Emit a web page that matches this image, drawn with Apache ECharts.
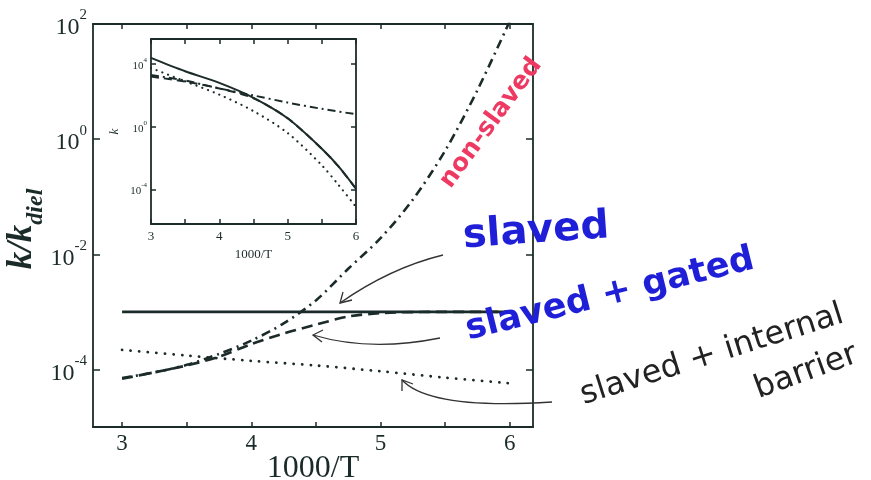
<!DOCTYPE html>
<html>
<head>
<meta charset="utf-8">
<script src="https://cdn.jsdelivr.net/npm/echarts@6/dist/echarts.min.js"></script>
<style>html,body{margin:0;padding:0;background:#fff;}#c{width:871px;height:480px;}</style>
</head>
<body>
<div id="c"></div>
<script>
// ---------- main panel data (k / k_diel vs 1000/T) ----------
const mainX = [3, 3.25, 3.5, 3.75, 4, 4.25, 4.5, 4.75, 5, 5.25, 5.5, 5.75, 6];
const slaved = [1e-3, 1e-3, 1e-3, 1e-3, 1e-3, 1e-3, 1e-3, 1e-3, 1e-3, 1e-3, 1e-3, 1e-3, 1e-3];
const nonSlaved = [7.1e-5, 8.9e-5, 1.2e-4, 1.86e-4, 3.16e-4, 6.3e-4, 1.58e-3, 5.6e-3, 1.9e-2, 8.9e-2, 0.63, 7.1, 112];
const slavedGated = [6.9e-5, 8.9e-5, 1.17e-4, 1.66e-4, 2.75e-4, 4.2e-4, 6.0e-4, 8.3e-4, 9.5e-4, 9.9e-4, 1e-3, 1e-3, 1e-3];
const barrierX = [3, 3.5, 4, 4.5, 5, 5.5, 6];
const slavedBarrier = [2.19e-4, 1.74e-4, 1.41e-4, 1.17e-4, 9.3e-5, 7.2e-5, 5.75e-5];

// ---------- inset data (k vs 1000/T) ----------
const insetX = [3, 3.5, 4, 4.5, 5, 5.5, 5.75, 6];
const insetSolid = [2.5e4, 3.5e3, 630, 71, 3.5, 0.04, 2.8e-3, 1.12e-4];
const insetDotted = [5.6e3, 794, 112, 10, 0.4, 3.5e-3, 1.8e-4, 7.9e-6];
const insetDashed = [1.6e3, 760, 280, 66, 3.47, 0.039, 2.75e-3, 1.1e-4];
const insetDashDotX = [3, 3.5, 4, 4.5, 5, 5.5, 6];
const insetDashDot = [2.0e3, 890, 280, 100, 35, 14, 6.3];

// ---------- ticks ----------
const xTickLabels = [3, 4, 5, 6];
const xTicks = [3, 3.5, 4, 4.5, 5, 5.5, 6];
const mainYTicks = [1e-4, 1e-2, 1, 100];
const insetYTicks = [1e-4, 1, 1e4];

const INK = '#1b2b29';
const SERIF = 'Liberation Serif';

function pairs(xs, ys) { return xs.map((x, i) => [x, ys[i]]); }
function expLabel(v) { return '{b|10}{s|' + Math.round(Math.log10(v)) + '}'; }

function xAxisCfg(grid, pos, showLabel, size, opts) {
  return Object.assign({
    type: 'value', gridIndex: grid, position: pos,
    min: opts.min, max: opts.max,
    axisLine: { show: true, onZero: false, lineStyle: { color: INK, width: 1.8 } },
    axisTick: { show: true, inside: true, length: 5, customValues: xTicks, lineStyle: { color: INK, width: 1.5 } },
    axisLabel: { show: showLabel, customValues: xTickLabels, color: INK, fontFamily: SERIF, fontSize: size, margin: opts.margin || 8 },
    splitLine: { show: false }
  }, opts.extra || {});
}
function yAxisCfg(grid, pos, showLabel, big, opts) {
  return Object.assign({
    type: 'log', logBase: 10, gridIndex: grid, position: pos,
    min: opts.min, max: opts.max,
    axisLine: { show: true, onZero: false, lineStyle: { color: INK, width: 1.8 } },
    axisTick: { show: true, inside: true, length: big ? 7 : 5, customValues: opts.ticks, lineStyle: { color: INK, width: 1.5 } },
    axisLabel: {
      show: showLabel, customValues: opts.ticks, formatter: expLabel, margin: big ? 6 : 4,
      rich: big ? {
        b: { fontFamily: SERIF, fontSize: 24, color: INK, verticalAlign: 'bottom', lineHeight: 32 },
        s: { fontFamily: SERIF, fontSize: 15, color: INK, verticalAlign: 'top', lineHeight: 32 }
      } : {
        b: { fontFamily: SERIF, fontSize: 11, color: INK, verticalAlign: 'bottom', lineHeight: 15 },
        s: { fontFamily: SERIF, fontSize: 7, color: INK, verticalAlign: 'top', lineHeight: 15 }
      }
    },
    splitLine: { show: false }
  }, opts.extra || {});
}

const mainX0 = { min: 2.775, max: 6.18 };
const mainY0 = { min: 1e-5, max: 100, ticks: mainYTicks };
const insX0 = { min: 3, max: 6 };
const insY0 = { min: 6.3e-7, max: 3.98e5, ticks: insetYTicks };

const option = {
  backgroundColor: '#fff',
  animation: false,
  grid: [
    { left: 93, right: 338, top: 24, bottom: 53, outerBoundsMode: 'none', containLabel: false },
    { left: 151, right: 515, top: 39, bottom: 256, outerBoundsMode: 'none', containLabel: false, show: true, backgroundColor: '#fff', borderWidth: 0, z: 5 }
  ],
  xAxis: [
    xAxisCfg(0, 'bottom', true, 23, Object.assign({ margin: 5, extra: { name: '1000/T', nameLocation: 'middle', nameGap: 26, nameMoveOverlap: false, nameTextStyle: { fontFamily: SERIF, fontSize: 32, color: INK, verticalAlign: 'top' } } }, mainX0)),
    xAxisCfg(0, 'top', false, 21, mainX0),
    xAxisCfg(1, 'bottom', true, 13, Object.assign({ margin: 6, extra: { z: 6, name: '1000/T', nameLocation: 'middle', nameGap: 24, nameTextStyle: { fontFamily: SERIF, fontSize: 13, color: INK } } }, insX0)),
    xAxisCfg(1, 'top', false, 13, Object.assign({ extra: { z: 6 } }, insX0))
  ],
  yAxis: [
    yAxisCfg(0, 'left', true, true, mainY0),
    yAxisCfg(0, 'right', false, true, mainY0),
    yAxisCfg(1, 'left', true, false, Object.assign({ extra: { z: 6, name: 'k', nameLocation: 'middle', nameGap: 30, nameRotate: 90, nameTextStyle: { fontFamily: SERIF, fontStyle: 'italic', fontSize: 13, color: INK } } }, insY0)),
    yAxisCfg(1, 'right', false, false, Object.assign({ extra: { z: 6 } }, insY0))
  ],
  series: [
    { name: 'slaved', type: 'line', xAxisIndex: 0, yAxisIndex: 0, data: pairs(mainX, slaved), showSymbol: false, lineStyle: { color: INK, width: 2.6 } },
    { name: 'non-slaved', type: 'line', xAxisIndex: 0, yAxisIndex: 0, data: pairs(mainX, nonSlaved), smooth: 0.3, showSymbol: false, lineStyle: { color: INK, width: 2.6, type: [9, 5, 2, 5] } },
    { name: 'slaved + gated', type: 'line', xAxisIndex: 0, yAxisIndex: 0, data: pairs(mainX, slavedGated), smooth: 0.3, showSymbol: false, lineStyle: { color: INK, width: 2.6, type: [11, 6] } },
    { name: 'slaved + internal barrier', type: 'line', xAxisIndex: 0, yAxisIndex: 0, data: pairs(barrierX, slavedBarrier), smooth: 0.3, showSymbol: false, lineStyle: { color: INK, width: 2.8, type: [0.1, 8.5], cap: 'round' } },

    { type: 'line', xAxisIndex: 2, yAxisIndex: 2, z: 7, data: pairs(insetX, insetSolid), smooth: 0.3, showSymbol: false, lineStyle: { color: INK, width: 2 } },
    { type: 'line', xAxisIndex: 2, yAxisIndex: 2, z: 7, data: pairs(insetX, insetDotted), smooth: 0.3, showSymbol: false, lineStyle: { color: INK, width: 2.2, type: [0.1, 6], cap: 'round' } },
    { type: 'line', xAxisIndex: 2, yAxisIndex: 2, z: 7, data: pairs(insetX, insetDashed), smooth: 0.3, showSymbol: false, lineStyle: { color: INK, width: 2, type: [8, 5] } },
    { type: 'line', xAxisIndex: 2, yAxisIndex: 2, z: 7, data: pairs(insetDashDotX, insetDashDot), smooth: 0.3, showSymbol: false, lineStyle: { color: INK, width: 2, type: [8, 4, 2, 4] } }
  ],
  graphic: [
    { type: 'text', x: 26, y: 229, rotation: Math.PI / 2, z: 10,
      style: { text: '{k|k/k}{d|diel}', align: 'center', verticalAlign: 'middle',
        rich: { k: { fontFamily: SERIF, fontSize: 35, fontWeight: 'bold', fontStyle: 'italic', fill: INK, verticalAlign: 'top', lineHeight: 44 },
                d: { fontFamily: SERIF, fontSize: 24, fontWeight: 'bold', fontStyle: 'italic', fill: INK, verticalAlign: 'bottom', lineHeight: 44 } } } },
    // handwritten annotations
    { type: 'text', x: 491, y: 123, rotation: 53.7 * Math.PI / 180, z: 10,
      style: { text: 'non-slaved', align: 'center', verticalAlign: 'middle', fontFamily: 'DejaVu Sans', fontWeight: 'bold', fontSize: 25, fill: '#ee3a63' } },
    { type: 'text', x: 536, y: 232, rotation: 4 * Math.PI / 180, z: 10,
      style: { text: 'slaved', align: 'center', verticalAlign: 'middle', fontFamily: 'DejaVu Sans', fontWeight: 'bold', fontSize: 40, fill: '#1f1fd8' } },
    { type: 'text', x: 610, y: 295, rotation: 14 * Math.PI / 180, z: 10,
      style: { text: 'slaved + gated', align: 'center', verticalAlign: 'middle', fontFamily: 'DejaVu Sans', fontWeight: 'bold', fontSize: 35, fill: '#1f1fd8' } },
    { type: 'text', x: 712, y: 355, rotation: 17.5 * Math.PI / 180, z: 10,
      style: { text: 'slaved + internal', align: 'center', verticalAlign: 'middle', fontFamily: 'DejaVu Sans', fontSize: 32, fill: '#222' } },
    { type: 'text', x: 806, y: 372, rotation: 20 * Math.PI / 180, z: 10,
      style: { text: 'barrier', align: 'center', verticalAlign: 'middle', fontFamily: 'DejaVu Sans', fontSize: 32, fill: '#222' } },
    // arrows
    { type: 'bezierCurve', z: 10, shape: { x1: 443, y1: 255, cpx1: 390, cpy1: 268, x2: 340, y2: 303 }, style: { stroke: '#333', lineWidth: 1.3, fill: null } },
    { type: 'polyline', z: 10, shape: { points: [[343, 292], [340, 303], [352, 300]] }, style: { stroke: '#333', lineWidth: 1.3, fill: null } },
    { type: 'bezierCurve', z: 10, shape: { x1: 440, y1: 338, cpx1: 370, cpy1: 352, x2: 313, y2: 335 }, style: { stroke: '#333', lineWidth: 1.3, fill: null } },
    { type: 'polyline', z: 10, shape: { points: [[323, 330], [313, 335], [322, 342]] }, style: { stroke: '#333', lineWidth: 1.3, fill: null } },
    { type: 'bezierCurve', z: 10, shape: { x1: 552, y1: 402, cpx1: 430, cpy1: 410, x2: 402, y2: 380 }, style: { stroke: '#333', lineWidth: 1.3, fill: null } },
    { type: 'polyline', z: 10, shape: { points: [[402, 391], [402, 380], [413, 384]] }, style: { stroke: '#333', lineWidth: 1.3, fill: null } }
  ]
};

const chart = echarts.init(document.getElementById('c'), null, { renderer: 'canvas' });
chart.setOption(option);
</script>
</body>
</html>
